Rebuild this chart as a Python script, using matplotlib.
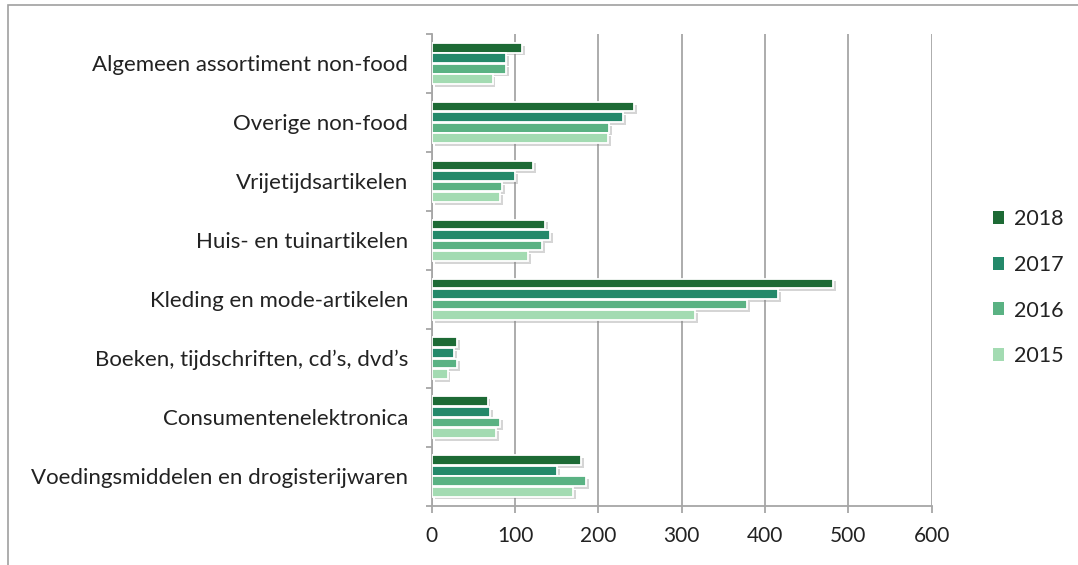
import matplotlib
matplotlib.use("Agg")
import matplotlib.pyplot as plt
import matplotlib.patheffects as pe
from matplotlib.patches import Rectangle
import numpy as np

plt.rcParams['font.family'] = ['Lato', 'DejaVu Sans']

categories = ['Algemeen assortiment non-food', 'Overige non-food', 'Vrijetijdsartikelen',
              'Huis- en tuinartikelen', 'Kleding en mode-artikelen',
              'Boeken, tijdschriften, cd\u2019s, dvd\u2019s', 'Consumentenelektronica',
              'Voedingsmiddelen en drogisterijwaren']
years = ['2018', '2017', '2016', '2015']
v2018 = [108, 243, 122, 136, 482, 30, 67, 179]
v2017 = [89, 230, 100, 142, 416, 27, 70, 150]
v2016 = [89, 213, 84, 132, 378, 30, 82, 185]
v2015 = [73, 212, 82, 116, 316, 19, 77, 170]
series = [v2018, v2017, v2016, v2015]
colors = ['#1d6a35', '#24896a', '#5ab283', '#a3dbb2']

fig = plt.figure(figsize=(10.78, 5.65), dpi=100)
ax = fig.add_axes([0.4005, 0.1053, 0.4638, 0.8345])

y = np.arange(len(categories))
step = 0.179
shadow = [pe.SimplePatchShadow(offset=(2, -2), shadow_rgbFace='#888888', alpha=0.35), pe.Normal()]
for i, (vals, col, yr) in enumerate(zip(series, colors, years)):
    bars = ax.barh(y + (i - 1.5) * step, vals, height=step * 0.92, color=col,
                   edgecolor='white', linewidth=1.3, label=yr, zorder=3)
    for b in bars:
        b.set_path_effects(shadow)

ax.set_ylim(len(categories) - 0.5, -0.5)
ax.set_xlim(0, 600)
ax.set_xticks(range(0, 601, 100))
ax.set_yticks(y)
ax.set_yticklabels(categories)
ax.set_yticks(np.arange(-0.5, len(categories), 1), minor=True)

ax.xaxis.grid(True, color='#a6a6a6', linewidth=1.3, zorder=0)
for s in ['top', 'right']:
    ax.spines[s].set_visible(False)
for s in ['left', 'bottom']:
    ax.spines[s].set_color('#a6a6a6')
    ax.spines[s].set_linewidth(1.3)

ax.tick_params(axis='y', which='major', length=0, pad=17, labelsize=16, labelcolor='#222222')
ax.tick_params(axis='y', which='minor', length=4, width=1.3, color='#a6a6a6', direction='out')
ax.tick_params(axis='x', which='major', length=5, width=1.3, color='#a6a6a6', direction='out',
               pad=10, labelsize=15, labelcolor='#222222')

ax.legend(loc='center left', bbox_to_anchor=(1.083, 0.462), frameon=False, fontsize=15.5,
          handlelength=0.55, handleheight=0.55, handletextpad=0.45, labelspacing=1.2,
          labelcolor='#222222')
leg = ax.get_legend()
for h in leg.legend_handles:
    h.set_path_effects([])
    h.set_linewidth(0)

fig.patches.append(Rectangle((8 / 1078, -0.1), 1.2, 1 - 5 / 565 + 0.1, transform=fig.transFigure,
                             fill=False, edgecolor='#a0a0a0', linewidth=1.2))

fig.savefig('out.png', dpi=100)
